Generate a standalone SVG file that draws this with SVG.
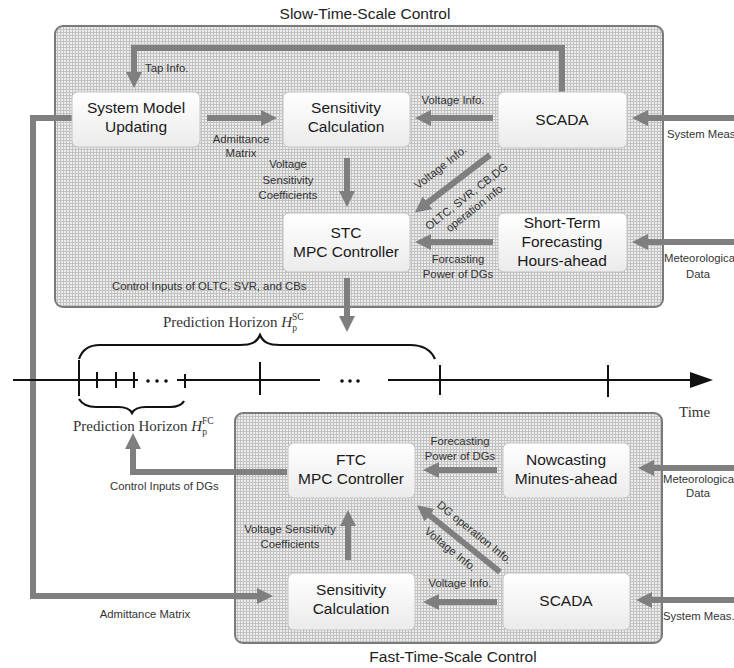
<svg xmlns="http://www.w3.org/2000/svg" width="734" height="668" viewBox="0 0 734 668">
<style>
.panel{fill:url(#hatch);stroke:#7a7a7a;stroke-width:2}
.node{fill:url(#ng);stroke:#c4c4c4;stroke-width:1}
.nt{font-family:"Liberation Sans",Arial,sans-serif;font-size:15.5px;fill:#1a1a1a;text-anchor:middle}
.lb{font-family:"Liberation Sans",Arial,sans-serif;font-size:11.3px;fill:#333}
.mid{text-anchor:middle}
.ttl{font-family:"Liberation Sans",Arial,sans-serif;font-size:15.5px;fill:#222}
.ser{font-family:"Liberation Serif","DejaVu Serif",serif;font-size:15px;fill:#333}
.ar{fill:none;stroke:#7f7f7f;stroke-width:6;marker-end:url(#ah)}
.tl{fill:none;stroke:#111;stroke-width:2}
.br{fill:none;stroke:#111;stroke-width:2.2}
</style>
<defs>
<pattern id="hatch" width="3" height="3" patternUnits="userSpaceOnUse">
<rect width="3" height="3" fill="#c2c2c2"/>
<rect x="1" y="0" width="2" height="2" fill="#ececec"/>
</pattern>
<linearGradient id="ng" x1="0" y1="0" x2="0" y2="1">
<stop offset="0" stop-color="#ffffff"/>
<stop offset="1" stop-color="#ebebeb"/>
</linearGradient>
<marker id="ah" markerUnits="userSpaceOnUse" markerWidth="16" markerHeight="16" refX="2" refY="8" orient="auto">
<path d="M0,0 L16,8 L0,16 z" fill="#7f7f7f"/>
</marker>
</defs>
<rect width="734" height="668" fill="#ffffff"/>

<g id="slow-panel">
<rect class="panel" x="55" y="26" width="608" height="281" rx="8"/>
<text class="ttl" x="365" y="19" text-anchor="middle">Slow-Time-Scale Control</text>
</g>
<g id="fast-panel">
<rect class="panel" x="235" y="413" width="427" height="230" rx="8"/>
<text class="ttl" x="453" y="662" text-anchor="middle">Fast-Time-Scale Control</text>
</g>

<g id="connectors">
<path class="ar" d="M562,92 V48 H134 V74"/>
<path class="ar" d="M207,118 H263"/>
<path class="ar" d="M347,158 V193"/>
<path class="ar" d="M493,118 H429"/>
<path class="ar" d="M490,155 L426,204"/>
<path class="ar" d="M493,242 H429"/>
<path class="ar" d="M734,118 H646"/>
<path class="ar" d="M734,242 H646"/>
<path class="ar" d="M347,278 V318"/>
<path class="ar" d="M72,118 H33 V596 H259"/>
<path class="ar" d="M287,472 H133 V447"/>
<path class="ar" d="M348,560 V524"/>
<path class="ar" d="M497,470 H437"/>
<path class="ar" d="M500,572 L428,514"/>
<path class="ar" d="M497,602 H437"/>
<path class="ar" d="M734,468 H652"/>
<path class="ar" d="M734,600 H650"/>
</g>

<g id="timeline">
<path class="tl" d="M13,380 H138 M177,380 H320 M388,380 H692"/>
<polygon points="690,372 713,380 690,388" fill="#111"/>
<path class="tl" d="M79,360 V396 M260,362 V395 M440,365 V395 M608,365 V397 M97,372 V388 M116,372 V388 M134,372 V388 M185,374 V388"/>
<g fill="#111"><circle cx="148" cy="381" r="1.8"/><circle cx="157" cy="381" r="1.8"/><circle cx="166" cy="381" r="1.8"/><circle cx="342" cy="381" r="1.8"/><circle cx="350" cy="381" r="1.8"/><circle cx="358" cy="381" r="1.8"/></g>
<path class="br" d="M79,359 C82,350 88,345 100,345 H240 C252,345 257,342 260,335 C263,342 268,345 280,345 H410 C424,345 431,350 435,359"/>
<path class="br" d="M79,399 C82,404 88,407 96,407 H118 C126,407 130,409 132,413 C134,409 138,407 146,407 H170 C178,407 182,405 184,401"/>
<text class="ser" x="163" y="327">Prediction Horizon <tspan font-style="italic">H</tspan><tspan font-size="9.5" dy="4">p</tspan><tspan font-size="9.5" dx="-5" dy="-11">SC</tspan></text>
<text class="ser" x="73" y="431">Prediction Horizon <tspan font-style="italic">H</tspan><tspan font-size="9.5" dy="4">p</tspan><tspan font-size="9.5" dx="-5" dy="-11">FC</tspan></text>
<text class="ser" x="679" y="417" font-size="16.5">Time</text>
</g>

<g id="edge-labels">
<text class="lb" x="145" y="72">Tap Info.</text>
<text class="lb mid" x="241" y="143">Admittance</text>
<text class="lb mid" x="241" y="157">Matrix</text>
<text class="lb mid" x="288" y="168">Voltage</text>
<text class="lb mid" x="288" y="184">Sensitivity</text>
<text class="lb mid" x="288" y="199">Coefficients</text>
<text class="lb mid" x="453" y="104">Voltage Info.</text>
<text class="lb mid" transform="rotate(-38 441 168)" x="441" y="171">Voltage Info.</text>
<text class="lb mid" transform="rotate(-38 467 197)" x="467" y="200">OLTC, SVR, CB,DG</text>
<text class="lb mid" transform="rotate(-38 476 208)" x="476" y="211">operation info.</text>
<text class="lb mid" x="458" y="263">Forcasting</text>
<text class="lb mid" x="458" y="278">Power of DGs</text>
<text class="lb" x="667" y="138">System Meas</text>
<text class="lb" x="664" y="262">Meteorologica</text>
<text class="lb mid" x="698" y="278">Data</text>
<text class="lb" x="112" y="290">Control Inputs of OLTC, SVR, and CBs</text>
<text class="lb mid" x="460" y="445">Forecasting</text>
<text class="lb mid" x="460" y="460">Power of DGs</text>
<text class="lb" x="110" y="490">Control Inputs of DGs</text>
<text class="lb mid" x="290" y="533">Voltage Sensitivity</text>
<text class="lb mid" x="290" y="548">Coefficients</text>
<text class="lb mid" x="145" y="618">Admittance Matrix</text>
<text class="lb mid" x="460" y="587">Voltage Info.</text>
<text class="lb mid" transform="rotate(39 474 533)" x="474" y="536">DG operation Info.</text>
<text class="lb mid" transform="rotate(39 450 550)" x="450" y="553">Voltage Info.</text>
<text class="lb" x="663" y="483">Meteorologica</text>
<text class="lb mid" x="698" y="497">Data</text>
<text class="lb" x="663" y="620">System Meas.</text>
</g>

<g id="system-model-updating">
<rect class="node" x="72" y="92" width="128" height="55" rx="6"/>
<text class="nt" x="136" y="113">System Model</text>
<text class="nt" x="136" y="132">Updating</text>
</g>
<g id="sensitivity-top">
<rect class="node" x="283" y="92" width="127" height="55" rx="6"/>
<text class="nt" x="346" y="113">Sensitivity</text>
<text class="nt" x="346" y="132">Calculation</text>
</g>
<g id="scada-top">
<rect class="node" x="498" y="92" width="129" height="56" rx="6"/>
<text class="nt" x="562" y="125">SCADA</text>
</g>
<g id="stc-mpc">
<rect class="node" x="283" y="213" width="127" height="59" rx="6"/>
<text class="nt" x="346" y="238">STC</text>
<text class="nt" x="346" y="257">MPC Controller</text>
</g>
<g id="short-term-forecasting">
<rect class="node" x="498" y="213" width="129" height="59" rx="6"/>
<text class="nt" x="562" y="228">Short-Term</text>
<text class="nt" x="562" y="247">Forecasting</text>
<text class="nt" x="562" y="266">Hours-ahead</text>
</g>
<g id="ftc-mpc">
<rect class="node" x="288" y="443" width="127" height="55" rx="6"/>
<text class="nt" x="351" y="465">FTC</text>
<text class="nt" x="351" y="484">MPC Controller</text>
</g>
<g id="nowcasting">
<rect class="node" x="503" y="443" width="127" height="55" rx="6"/>
<text class="nt" x="566" y="465">Nowcasting</text>
<text class="nt" x="566" y="484">Minutes-ahead</text>
</g>
<g id="sensitivity-bottom">
<rect class="node" x="288" y="573" width="127" height="57" rx="6"/>
<text class="nt" x="351" y="595">Sensitivity</text>
<text class="nt" x="351" y="614">Calculation</text>
</g>
<g id="scada-bottom">
<rect class="node" x="503" y="573" width="127" height="57" rx="6"/>
<text class="nt" x="566" y="606">SCADA</text>
</g>
</svg>
